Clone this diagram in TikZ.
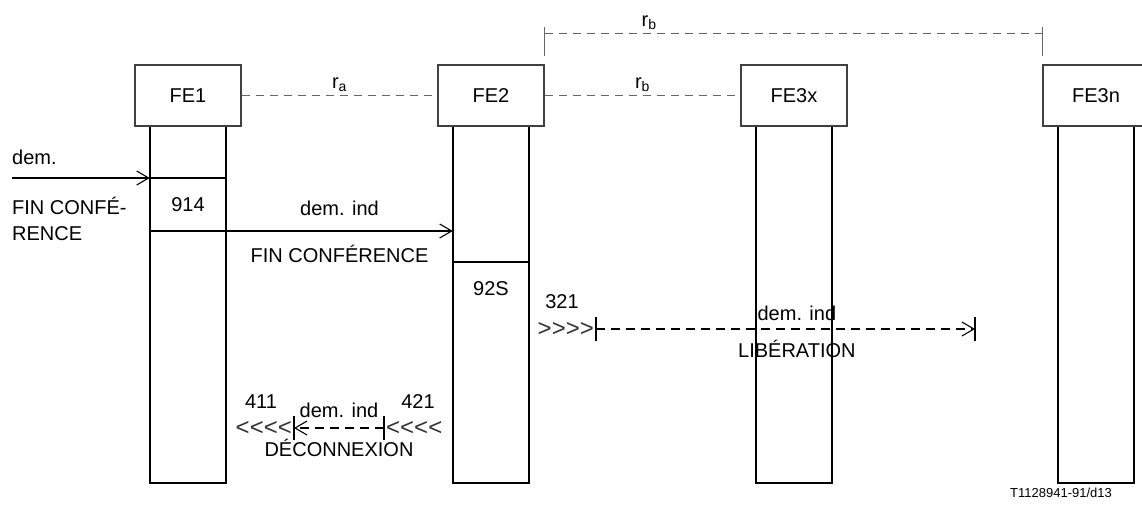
\documentclass[tikz,border=0pt]{standalone}
\usepackage{fontspec}
\setmainfont{Liberation Sans}
\newfontfamily\chevfont{Liberation Sans}
\usetikzlibrary{arrows.meta}

\tikzset{
  big/.style={font=\fontsize{20}{24}\selectfont},
  fe/.style={big, draw=black!75, line width=1.3pt, minimum width=106pt, minimum height=61pt, inner sep=0pt},
  colbox/.style={minimum width=76pt, minimum height=356pt, inner sep=0pt},
  col/.style={line width=2pt},
  link/.style={draw=black!60, line width=1.1pt, dash pattern=on 8pt off 6pt},
  linktick/.style={draw=black!60, line width=1.1pt},
  msg/.style={line width=1.6pt, -{Straight Barb[length=12pt,width=14pt,line width=1.1pt]}},
  dmsg/.style={msg, dash pattern=on 9pt off 6pt},
  lbl/.style={big, inner sep=0pt},
  chev/.style={font=\chevfont\fontsize{24}{26}\selectfont, text=black!80, inner sep=0pt},
}

\begin{document}
\begin{tikzpicture}[x=1pt, y=-1pt]
\useasboundingbox (0,0) rectangle (1142,511);

% Functional entities
\node[fe] (fe1) at (188,95.5) {FE1};
\node[fe] (fe2) at (491,95.5) {FE2};
\node[fe] (fe3x) at (794,95.5) {FE3x};
\node[fe] (fe3n) at (1096,95.5) {FE3n};

% Columns
\foreach \n/\c in {fe1/c1, fe2/c2, fe3x/c3, fe3n/c4} {
  \node[colbox, anchor=north] (\c) at (\n.south) {};
  \draw[col] (\c.north west) -- (\c.south west) -- (\c.south east) -- (\c.north east);
}

% Relations
\draw[link] (fe1.east) -- node[lbl, above=3pt] {r\textsubscript{a}} (fe2.west);
\draw[link] (fe2.east) -- node[lbl, above=3pt] {r\textsubscript{b}} (fe3x.west);
\coordinate (rb1) at ([yshift=8pt]fe2.north east);
\coordinate (rb2) at ([yshift=8pt]fe3n.north west);
\draw[linktick] (rb1) -- ++(0,-29);
\draw[linktick] (rb2) -- ++(0,-29);
\draw[link] ([yshift=23pt]rb1) -- node[lbl, pos=0.21, above=3pt] {r\textsubscript{b}} ([yshift=23pt]rb2);

% FE1: request
\coordinate (src) at (12,178);
\draw[msg] (src) -- (c1.west |- src);
\node[lbl, anchor=base west] (m0) at (12,164) {dem.};
\node[lbl, anchor=base west, align=left] (m0b) at (12,240) {FIN CONFÉ-\\[2pt]RENCE};
\draw[col] (c1.west |- src) -- (c1.east |- src);
\node[lbl] (n914) at (c1.north |- 0,205) {914};
\draw[col] (c1.west |- 0,231) -- (c1.east |- 0,231);
\draw[msg] (c1.east |- 0,231) -- node[lbl, above=15pt] {dem. ind} node[lbl, below=13pt] {FIN CONFÉRENCE} (c2.west |- 0,231);

% FE2: release
\draw[col] (c2.west |- 0,262) -- (c2.east |- 0,262);
\node[lbl] (n92s) at (c2.north |- 0,289) {92S};
\node[lbl] (n321) at (562,302) {321};
\coordinate (l1) at (596,329);
\coordinate (l2) at (975,329);
\draw[col] ([yshift=12pt]l1) -- ([yshift=-12pt]l1);
\draw[col] ([yshift=12pt]l2) -- ([yshift=-12pt]l2);
\node[chev, anchor=east] (g1) at ([xshift=-2pt]l1) {>>>>};
\draw[dmsg] (l1) -- node[lbl, pos=0.53, above=8pt] {dem. ind} node[lbl, pos=0.53, below=10pt] {LIBÉRATION} (l2);

% FE2 -> FE1: disconnect
\coordinate (d1) at (384,428);
\coordinate (d2) at (294,428);
\draw[col] ([yshift=12pt]d1) -- ([yshift=-12pt]d1);
\draw[col] ([yshift=12pt]d2) -- ([yshift=-12pt]d2);
\draw[dmsg] (d1) -- node[lbl, above=10pt] {dem. ind} node[lbl, below=10pt] {DÉCONNEXION} (d2);
\node[chev, anchor=east] (g2) at ([xshift=-2pt]d2) {<<<<};
\node[chev, anchor=west] (g3) at ([xshift=2pt]d1) {<<<<};
\node[lbl] (n411) at (261,402) {411};
\node[lbl] (n421) at (418,402) {421};

\node[font=\fontsize{13}{15}\selectfont] (ref) at (1061,493) {T1128941-91/d13};
\end{tikzpicture}
\end{document}
